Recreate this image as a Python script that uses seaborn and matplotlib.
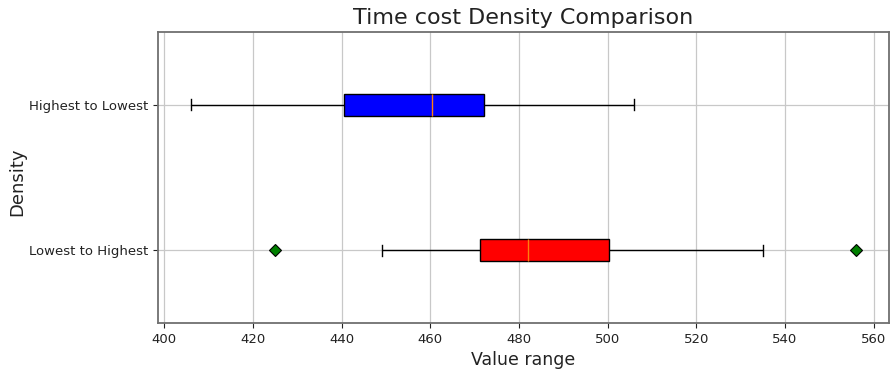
import matplotlib
matplotlib.use("Agg")
import matplotlib.pyplot as plt
import seaborn as sns
import pandas as pd

# Categories (top to bottom)
categories = ["Highest to Lowest", "Lowest to Highest"]
box_colors = ["blue", "red"]

# Sample values (min/whisker, quartiles, median, fliers)
highest_to_lowest = [406.0, 440.6, 460.3, 472.0, 506.0]
lowest_to_highest = [425.0, 449.0, 471.1, 482.0, 482.0, 482.0, 500.4, 535.1, 556.0]

title = "Time cost Density Comparison"
x_label = "Value range"
y_label = "Density"
x_ticks = [400, 420, 440, 460, 480, 500, 520, 540, 560]

df = pd.DataFrame({
    "value": highest_to_lowest + lowest_to_highest,
    "group": [categories[0]] * len(highest_to_lowest) + [categories[1]] * len(lowest_to_highest),
})

fig = plt.figure(figsize=(8.91, 3.75), dpi=100)
ax = fig.add_axes([0.177, 0.139, 0.821, 0.776])

sns.boxplot(
    data=df, x="value", y="group", hue="group", order=categories, hue_order=categories,
    palette=dict(zip(categories, box_colors)), orient="h", width=0.15, dodge=False,
    legend=False, whis=1.5, saturation=1, ax=ax,
    linecolor="black", linewidth=1.0,
    medianprops=dict(color="#ff7f0e", linewidth=1.0),
    flierprops=dict(marker="D", markerfacecolor="green", markeredgecolor="black",
                    markersize=6, markeredgewidth=0.8),
    capprops=dict(color="black"), whiskerprops=dict(color="black"),
    capwidths=0.075,
)

ax.set_xticks(x_ticks)
ax.set_xlim(398.5, 563.5)
ax.set_ylim(1.5, -0.5)
ax.grid(True, color="#c8c8c8", linewidth=0.9)
ax.set_axisbelow(True)
for s in ax.spines.values():
    s.set_color("#707070")
    s.set_linewidth(1.3)
ax.tick_params(axis="both", labelsize=9.5, colors="#222222")
ax.set_title(title, fontsize=16, color="#222222")
ax.set_xlabel(x_label, fontsize=12.5, color="#222222")
ax.set_ylabel(y_label, fontsize=13, color="#222222")
ax.yaxis.set_label_coords(-0.18, 0.485)

fig.savefig("out.png", dpi=100)
